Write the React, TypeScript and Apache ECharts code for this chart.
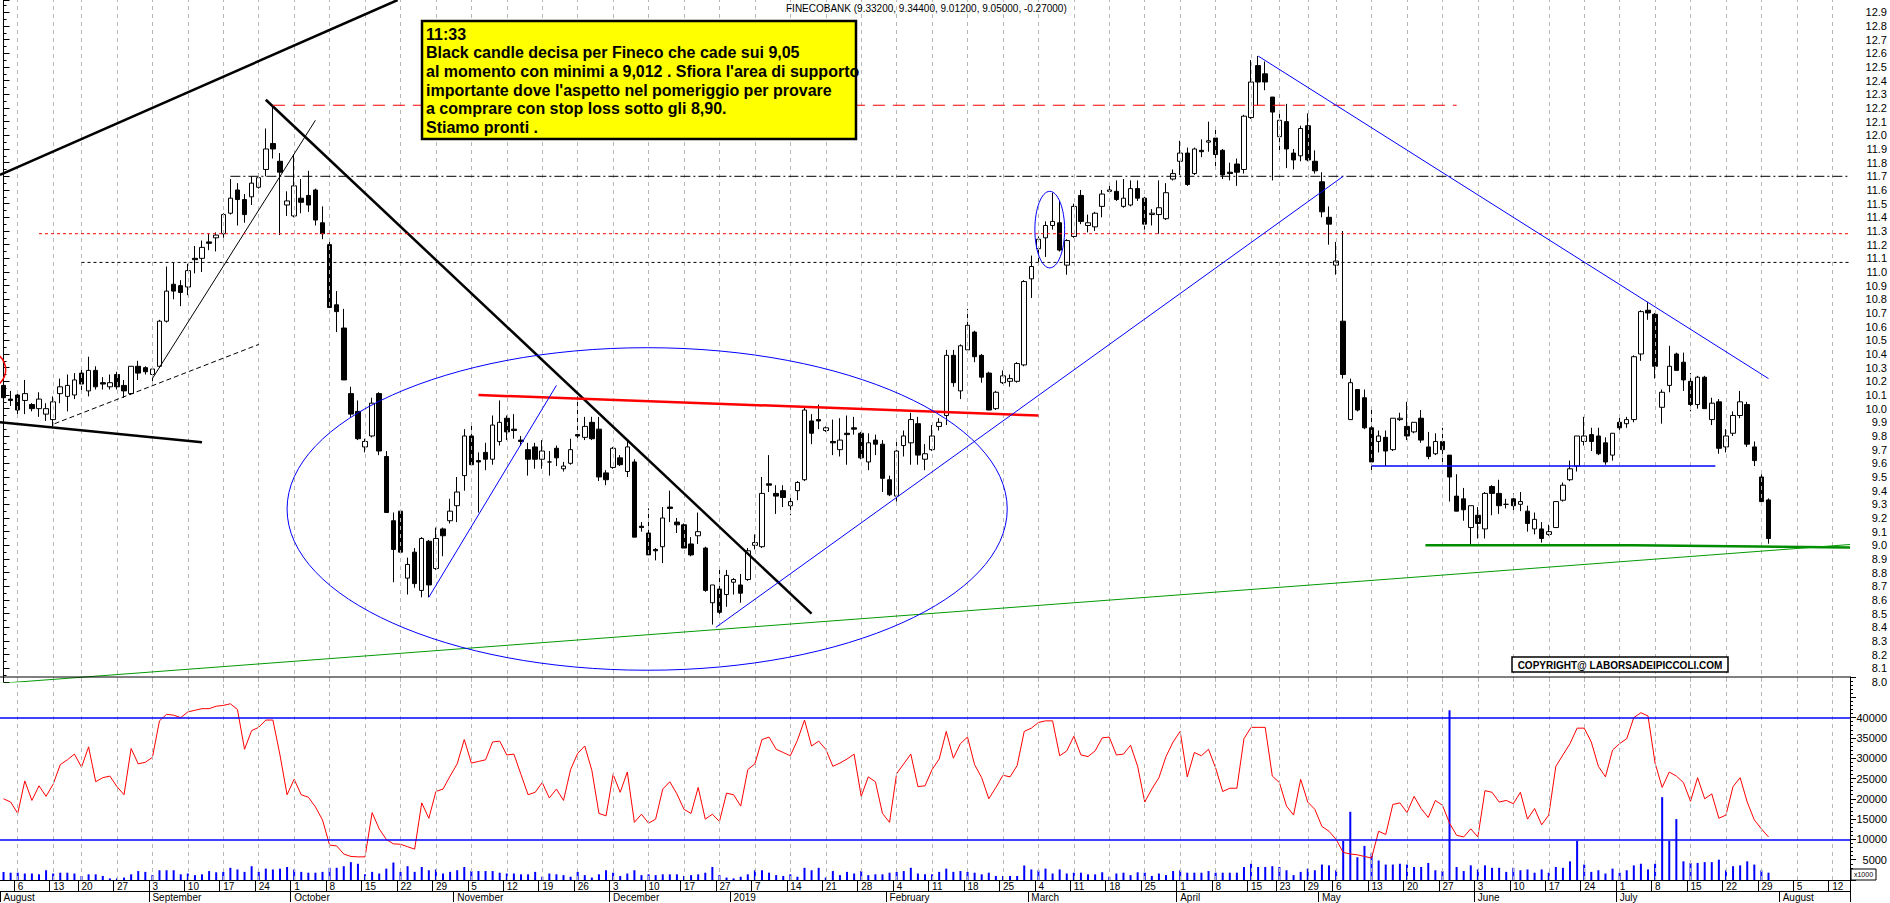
import React, { useEffect, useRef } from 'react';
import * as echarts from 'echarts';

// ---------- calendar ----------
const HOLIDAYS = ['2018-08-15', '2018-12-24', '2018-12-25', '2018-12-26', '2018-12-31', '2019-01-01', '2019-04-19', '2019-04-22', '2019-05-01', '2019-08-15'];
const FIRST_DAY = '2018-08-02';
const SLOT_COUNT = 261;
const MONTH_NAMES = ['January', 'February', 'March', 'April', 'May', 'June', 'July', 'August', 'September', 'October', 'November', 'December'];

function tradingDays(start: string, count: number, holidays: string[]): string[] {
  const out: string[] = [];
  const d = new Date(start + 'T00:00:00Z');
  while (out.length < count) {
    const dow = d.getUTCDay();
    const s = d.toISOString().slice(0, 10);
    if (dow !== 0 && dow !== 6 && holidays.indexOf(s) < 0) out.push(s);
    d.setUTCDate(d.getUTCDate() + 1);
  }
  return out;
}
const DATES = tradingDays(FIRST_DAY, SLOT_COUNT, HOLIDAYS);

// ---------- data: [open, high, low, close] ----------
const CANDLES: number[][] = [
  [10.17, 10.23, 10.02, 10.08], [10.07, 10.13, 10.02, 10.06], [10.10, 10.12, 9.96, 9.99], [10.06, 10.21, 9.96, 10.11], [10.03, 10.04, 9.98, 10.00],
  [10.00, 10.12, 9.94, 10.07], [9.96, 10.04, 9.91, 10.00], [9.92, 10.09, 9.87, 10.05], [10.11, 10.22, 10.04, 10.16], [10.09, 10.25, 9.98, 10.17],
  [10.10, 10.26, 10.07, 10.21], [10.26, 10.31, 10.13, 10.18], [10.13, 10.38, 10.09, 10.28], [10.28, 10.31, 10.14, 10.16], [10.19, 10.23, 10.14, 10.18],
  [10.16, 10.25, 10.14, 10.19], [10.25, 10.27, 10.14, 10.16], [10.17, 10.21, 10.08, 10.13], [10.11, 10.31, 10.10, 10.31], [10.31, 10.35, 10.21, 10.26],
  [10.30, 10.31, 10.25, 10.27], [10.25, 10.31, 10.20, 10.29], [10.31, 10.65, 10.30, 10.64], [10.64, 11.04, 10.63, 10.86], [10.91, 11.07, 10.80, 10.86],
  [10.90, 10.94, 10.75, 10.85], [10.89, 11.06, 10.83, 11.01], [11.10, 11.19, 10.99, 11.09], [11.10, 11.23, 11.00, 11.18], [11.22, 11.28, 11.16, 11.21],
  [11.25, 11.29, 11.15, 11.27], [11.28, 11.43, 11.25, 11.42], [11.43, 11.68, 11.42, 11.54], [11.60, 11.65, 11.34, 11.53], [11.53, 11.57, 11.36, 11.42],
  [11.55, 11.70, 11.49, 11.65], [11.62, 11.72, 11.61, 11.69], [11.75, 12.05, 11.70, 11.90], [11.94, 12.21, 11.83, 11.90], [11.81, 11.87, 11.27, 11.73],
  [11.49, 11.59, 11.41, 11.52], [11.41, 11.86, 11.40, 11.63], [11.54, 11.68, 11.43, 11.51], [11.56, 11.74, 11.44, 11.49], [11.60, 11.61, 11.34, 11.38],
  [11.36, 11.48, 11.24, 11.28], [11.20, 11.22, 10.74, 10.74], [10.76, 10.86, 10.56, 10.71], [10.59, 10.73, 10.21, 10.21], [10.11, 10.16, 9.94, 9.96],
  [9.98, 10.06, 9.77, 9.78], [9.72, 9.78, 9.68, 9.76], [9.80, 10.08, 9.79, 10.04], [10.11, 10.12, 9.66, 9.69], [9.65, 9.69, 9.24, 9.24],
  [9.18, 9.24, 8.73, 8.97], [9.25, 9.26, 8.94, 8.95], [8.76, 8.91, 8.64, 8.86], [8.95, 8.98, 8.69, 8.72], [8.67, 9.06, 8.62, 9.05],
  [9.03, 9.04, 8.62, 8.71], [8.83, 9.13, 8.82, 9.05], [9.12, 9.13, 8.92, 9.07], [9.18, 9.34, 9.16, 9.25], [9.29, 9.50, 9.17, 9.39],
  [9.51, 9.85, 9.40, 9.80], [9.80, 9.90, 9.58, 9.59], [9.62, 9.68, 9.24, 9.61], [9.68, 9.75, 9.55, 9.63], [9.63, 9.95, 9.59, 9.88],
  [9.76, 10.06, 9.73, 9.90], [9.93, 9.95, 9.77, 9.83], [9.85, 9.96, 9.78, 9.84], [9.77, 9.80, 9.73, 9.76], [9.70, 9.75, 9.51, 9.63],
  [9.72, 9.75, 9.56, 9.63], [9.63, 9.77, 9.56, 9.69], [9.61, 9.69, 9.51, 9.61], [9.71, 9.73, 9.58, 9.64], [9.56, 9.61, 9.54, 9.58],
  [9.60, 9.78, 9.59, 9.70], [9.81, 10.09, 9.77, 9.80], [9.79, 9.94, 9.77, 9.87], [9.90, 9.94, 9.77, 9.78], [9.85, 9.94, 9.47, 9.50],
  [9.53, 9.55, 9.44, 9.48], [9.57, 9.72, 9.56, 9.71], [9.64, 9.66, 9.58, 9.59], [9.54, 9.77, 9.50, 9.72], [9.61, 9.63, 9.06, 9.06],
  [9.14, 9.17, 9.10, 9.13], [9.09, 9.27, 8.93, 8.93], [8.97, 8.98, 8.89, 8.96], [8.99, 9.28, 8.87, 9.20], [9.28, 9.40, 9.17, 9.27],
  [9.17, 9.20, 9.09, 9.15], [9.15, 9.16, 8.98, 8.98], [9.01, 9.06, 8.92, 8.93], [9.07, 9.24, 9.01, 9.10], [8.98, 8.99, 8.66, 8.67],
  [8.58, 8.71, 8.42, 8.71], [8.68, 8.82, 8.47, 8.51], [8.64, 8.82, 8.55, 8.78], [8.73, 8.76, 8.64, 8.75], [8.71, 8.79, 8.58, 8.65],
  [8.75, 8.98, 8.74, 8.96], [9.00, 9.08, 8.97, 9.02], [8.99, 9.50, 8.98, 9.38], [9.45, 9.66, 9.39, 9.44], [9.38, 9.44, 9.23, 9.36],
  [9.40, 9.44, 9.28, 9.35], [9.29, 9.35, 9.22, 9.32], [9.40, 9.47, 9.33, 9.46], [9.48, 10.01, 9.47, 9.99], [9.91, 9.96, 9.74, 9.82],
  [9.92, 10.03, 9.85, 9.91], [9.84, 9.87, 9.83, 9.86], [9.76, 9.92, 9.66, 9.75], [9.70, 9.93, 9.65, 9.77], [9.82, 9.95, 9.59, 9.81],
  [9.86, 9.94, 9.81, 9.85], [9.82, 9.83, 9.63, 9.64], [9.61, 9.82, 9.55, 9.75], [9.77, 9.81, 9.66, 9.74], [9.74, 9.77, 9.39, 9.49],
  [9.48, 9.51, 9.36, 9.37], [9.36, 9.77, 9.32, 9.69], [9.73, 9.84, 9.65, 9.80], [9.75, 9.97, 9.59, 9.92], [9.89, 9.94, 9.59, 9.66],
  [9.63, 9.74, 9.55, 9.67], [9.70, 9.88, 9.69, 9.80], [9.87, 9.93, 9.84, 9.90], [9.95, 10.43, 9.88, 10.39], [10.39, 10.43, 10.16, 10.19],
  [10.13, 10.47, 10.07, 10.46], [10.43, 10.73, 10.42, 10.61], [10.56, 10.57, 10.34, 10.38], [10.39, 10.40, 10.19, 10.23], [10.26, 10.27, 9.99, 9.99],
  [10.00, 10.13, 9.99, 10.12], [10.19, 10.28, 10.18, 10.24], [10.20, 10.25, 10.16, 10.22], [10.20, 10.34, 10.19, 10.33], [10.32, 10.94, 10.31, 10.93],
  [10.95, 11.12, 10.81, 11.04], [11.17, 11.26, 11.07, 11.24], [11.25, 11.37, 11.11, 11.34], [11.34, 11.58, 11.31, 11.37], [11.36, 11.52, 11.15, 11.16],
  [11.05, 11.24, 10.98, 11.23], [11.26, 11.50, 11.25, 11.48], [11.56, 11.60, 11.35, 11.37], [11.34, 11.42, 11.29, 11.36], [11.33, 11.44, 11.30, 11.43],
  [11.48, 11.60, 11.40, 11.57], [11.59, 11.65, 11.58, 11.60], [11.59, 11.67, 11.52, 11.53], [11.48, 11.68, 11.47, 11.54], [11.49, 11.67, 11.48, 11.61],
  [11.61, 11.67, 11.52, 11.54], [11.54, 11.55, 11.31, 11.35], [11.42, 11.46, 11.34, 11.43], [11.42, 11.67, 11.28, 11.47], [11.39, 11.65, 11.38, 11.58],
  [11.68, 11.75, 11.67, 11.72], [11.81, 11.96, 11.71, 11.87], [11.87, 11.91, 11.63, 11.64], [11.72, 11.91, 11.71, 11.90], [11.89, 11.97, 11.84, 11.88],
  [11.95, 12.10, 11.88, 11.96], [11.98, 12.05, 11.77, 11.86], [11.89, 11.90, 11.68, 11.71], [11.73, 11.80, 11.67, 11.72], [11.79, 11.83, 11.63, 11.73],
  [11.75, 12.15, 11.72, 12.14], [12.13, 12.55, 12.12, 12.39], [12.51, 12.58, 12.22, 12.39], [12.45, 12.54, 12.33, 12.39], [12.28, 12.28, 11.67, 12.17],
  [11.99, 12.17, 11.89, 12.11], [12.10, 12.23, 11.76, 11.90], [11.87, 11.90, 11.75, 11.82], [11.85, 12.07, 11.81, 12.05], [12.07, 12.16, 11.81, 11.82],
  [11.81, 11.89, 11.72, 11.74], [11.66, 11.73, 11.40, 11.44], [11.40, 11.48, 11.20, 11.35], [11.05, 11.22, 10.98, 11.08], [10.64, 11.30, 10.22, 10.25],
  [9.92, 10.22, 9.92, 10.19], [10.14, 10.14, 9.98, 9.99], [10.08, 10.14, 9.85, 9.86], [9.86, 9.99, 9.55, 9.61], [9.76, 9.84, 9.68, 9.80],
  [9.79, 9.84, 9.58, 9.69], [9.70, 9.93, 9.69, 9.93], [9.92, 9.97, 9.91, 9.93], [9.87, 10.05, 9.77, 9.80], [9.83, 9.90, 9.82, 9.90],
  [9.93, 9.99, 9.75, 9.77], [9.72, 9.83, 9.63, 9.65], [9.67, 9.82, 9.66, 9.76], [9.76, 9.86, 9.58, 9.70], [9.66, 9.66, 9.32, 9.50],
  [9.36, 9.52, 9.25, 9.25], [9.34, 9.42, 9.18, 9.26], [9.13, 9.29, 9.00, 9.29], [9.22, 9.28, 9.05, 9.16], [9.12, 9.39, 9.05, 9.38],
  [9.43, 9.44, 9.22, 9.38], [9.38, 9.48, 9.23, 9.29], [9.30, 9.34, 9.27, 9.30], [9.34, 9.38, 9.23, 9.29], [9.30, 9.39, 9.25, 9.32],
  [9.25, 9.29, 9.10, 9.16], [9.12, 9.24, 9.08, 9.19], [9.12, 9.17, 9.02, 9.05], [9.08, 9.15, 9.07, 9.10], [9.13, 9.32, 9.13, 9.32],
  [9.33, 9.46, 9.32, 9.44], [9.48, 9.62, 9.47, 9.56], [9.58, 9.80, 9.54, 9.80], [9.76, 9.94, 9.73, 9.80], [9.81, 9.86, 9.69, 9.76],
  [9.80, 9.86, 9.66, 9.67], [9.75, 9.79, 9.59, 9.61], [9.66, 9.82, 9.62, 9.82], [9.90, 9.95, 9.83, 9.86], [9.89, 9.94, 9.86, 9.92],
  [9.92, 10.39, 9.90, 10.38], [10.40, 10.72, 10.35, 10.71], [10.72, 10.78, 10.65, 10.70], [10.69, 10.70, 10.22, 10.31], [10.01, 10.14, 9.89, 10.12],
  [10.17, 10.46, 10.12, 10.31], [10.40, 10.41, 10.28, 10.28], [10.34, 10.41, 10.13, 10.21], [10.20, 10.26, 9.98, 10.03], [10.03, 10.24, 10.00, 10.23],
  [10.23, 10.24, 10.00, 10.00], [9.92, 10.08, 9.88, 10.04], [10.05, 10.07, 9.67, 9.71], [9.72, 9.85, 9.68, 9.80], [9.82, 9.98, 9.80, 9.95],
  [9.95, 10.13, 9.93, 10.05], [10.03, 10.05, 9.72, 9.74], [9.72, 9.76, 9.58, 9.62], [9.50, 9.52, 9.30, 9.32], [9.332, 9.344, 9.012, 9.05],
];

const OSCILLATOR: number[] = [
  20000, 19200, 16400, 24400, 19600, 23200, 20600, 23600, 28400, 29600,
  31000, 27800, 32800, 24200, 25200, 25600, 23000, 21000, 32400, 28600,
  29000, 30200, 39200, 40800, 40600, 40000, 41400, 41800, 42200, 42200,
  42800, 43000, 43400, 42000, 32200, 36800, 37600, 39400, 39400, 30800,
  21000, 24800, 21000, 20400, 18000, 14800, 8600, 8400, 6400, 5800,
  5700, 5700, 16600, 12600, 10000, 8900, 8800, 8200, 7600, 19000,
  15200, 21800, 22400, 25600, 28600, 34600, 28800, 29200, 29600, 34000,
  34200, 30800, 31000, 26000, 21000, 21600, 24000, 20200, 22400, 19600,
  27200, 31200, 33000, 27000, 16400, 15800, 26000, 21600, 26600, 14200,
  16200, 14000, 15000, 22400, 24200, 21200, 17400, 16400, 22800, 15000,
  16200, 14400, 21400, 21000, 18200, 27200, 28600, 34600, 35200, 32200,
  31400, 30600, 34400, 39400, 33000, 34200, 32200, 28000, 28800, 29800,
  31000, 20600, 25400, 24200, 16400, 14200, 26200, 28600, 31000, 23000,
  23200, 27200, 29800, 36600, 30000, 33600, 35200, 28400, 25200, 20000,
  22800, 25800, 25400, 28200, 36600, 37400, 38800, 39200, 39200, 30600,
  31800, 35400, 30800, 30400, 31800, 35000, 35200, 30800, 31000, 33200,
  28000, 19200, 22400, 25200, 30400, 34000, 36600, 25400, 31400, 30600,
  32200, 27600, 21800, 22600, 22600, 34800, 37600, 37600, 37600, 25600,
  24000, 18200, 16000, 24800, 19200, 17400, 13200, 12000, 10000, 6800,
  6400, 6200, 5800, 5400, 12000, 11200, 18600, 19000, 16600, 20600,
  17600, 15400, 19600, 18400, 14000, 11000, 10600, 12600, 10600, 22000,
  21600, 19200, 19600, 18800, 21600, 15000, 17600, 13600, 16000, 28000,
  30800, 33600, 37400, 37400, 34000, 28000, 25400, 32000, 33600, 34800,
  40000, 41200, 40400, 28800, 22800, 26600, 25600, 24000, 19400, 25200,
  20000, 21200, 15200, 16000, 23000, 25200, 19200, 14800, 12600, 10600,
];

const VOLUME: number[] = [
  2000, 1800, 1800, 1600, 1600, 1400, 2400, 1600, 1800, 1800,
  1600, 1000, 1400, 1400, 1000, 400, 400, 600, 1400, 2200,
  2000, 1200, 2400, 2400, 2400, 1400, 1600, 1200, 1400, 2200,
  1900, 2000, 3000, 2600, 2000, 3400, 2000, 2800, 2600, 2800,
  3200, 2600, 2000, 1800, 1800, 2000, 3000, 3000, 3400, 4400,
  4000, 1400, 2000, 1600, 2800, 4300, 2000, 3400, 2000, 3200,
  2400, 2600, 1600, 2000, 2400, 3200, 2200, 2200, 2200, 2200,
  1800, 1600, 1600, 1400, 1400, 2000, 800, 1600, 1400, 1200,
  800, 2000, 1200, 600, 1400, 2400, 1800, 1000, 1600, 2400,
  1200, 1400, 1200, 1400, 1400, 1400, 1000, 1200, 1400, 1800,
  3200, 1200, 600, 400, 800, 1400, 2400, 2400, 1800, 1200,
  1000, 1400, 800, 3000, 2400, 3000, 600, 2200, 1200, 2000,
  1600, 2200, 1200, 1400, 1400, 1800, 2000, 2200, 3000, 1600,
  1400, 1400, 2000, 2800, 2000, 2200, 2000, 1800, 1400, 1800,
  1000, 1000, 1000, 1000, 3600, 2600, 2400, 2800, 1600, 2600,
  1600, 1800, 1800, 1400, 1400, 1900, 800, 1600, 1800, 1200,
  1900, 1800, 1000, 1600, 1200, 2200, 2400, 1800, 1800, 1800,
  2200, 1800, 1800, 1800, 1800, 3200, 4000, 3200, 3200, 3400,
  3200, 2400, 1200, 2000, 2800, 2400, 3800, 3600, 2400, 9600,
  16800, 5600, 8400, 6600, 4800, 3800, 3800, 4000, 3800, 3200,
  3200, 4200, 2400, 2200, 41800, 3200, 2200, 3600, 2600, 3600,
  3000, 3000, 2000, 3000, 2400, 2600, 1800, 2600, 1800, 3200,
  3000, 4600, 9600, 3800, 2000, 2400, 1600, 2800, 1800, 2400,
  3600, 4000, 2600, 4000, 20400, 9600, 15000, 4600, 4200, 4200,
  4400, 4400, 5000, 2400, 3400, 3600, 4600, 3800, 2400, 1800,
];

const OSC_LEVELS = [40000, 10000];

// ---------- drawn annotations, in data coordinates (slot index, price) ----------
type Trend = { pts: number[][]; color: string; width: number; dash: any };
const RIGHT_EDGE = SLOT_COUNT - 0.5;
const TREND_LINES: Trend[] = [
  { pts: [[-0.5, 11.71], [55.6, 12.99]], color: '#000000', width: 2.5, dash: 'solid' },
  { pts: [[-0.5, 9.9], [28, 9.755]], color: '#000000', width: 2.5, dash: 'solid' },
  { pts: [[7.2, 9.89], [36, 10.47]], color: '#000000', width: 1, dash: [5, 3] },
  { pts: [[21, 10.22], [44, 12.11]], color: '#000000', width: 1, dash: 'solid' },
  { pts: [[37, 12.26], [114, 8.5]], color: '#000000', width: 2.5, dash: 'solid' },
  { pts: [[38, 12.22], [205, 12.22]], color: '#ff0000', width: 1.2, dash: [12, 8] },
  { pts: [[32, 11.7], [RIGHT_EDGE, 11.7]], color: '#000000', width: 1, dash: [10, 3, 2, 3] },
  { pts: [[5, 11.28], [RIGHT_EDGE, 11.28]], color: '#ff0000', width: 1, dash: [3, 3] },
  { pts: [[11, 11.07], [RIGHT_EDGE, 11.07]], color: '#000000', width: 1, dash: [3, 3] },
  { pts: [[67, 10.1], [146, 9.95]], color: '#ff0000', width: 2.5, dash: 'solid' },
  { pts: [[60, 8.62], [78, 10.17]], color: '#0000ff', width: 1, dash: 'solid' },
  { pts: [[100.5, 8.4], [189, 11.7]], color: '#0000ff', width: 1, dash: 'solid' },
  { pts: [[177, 12.58], [249, 10.22]], color: '#0000ff', width: 1, dash: 'solid' },
  { pts: [[193, 9.58], [241.5, 9.58]], color: '#0000ff', width: 1.5, dash: 'solid' },
  { pts: [[200.6, 9.0], [230, 9.0], [RIGHT_EDGE, 8.985]], color: '#008c00', width: 2.5, dash: 'solid' },
  { pts: [[-0.5, 7.99], [RIGHT_EDGE, 9.006]], color: '#009a00', width: 1, dash: 'solid' },
];
const ELLIPSES = [
  { cx: 90.8, cy: 9.266, rx: 50.8, ry: 1.18, color: '#0000ff', width: 1 },
  { cx: 147.6, cy: 11.31, rx: 2.1, ry: 0.28, color: '#0000ff', width: 1 },
  { cx: -2.5, cy: 10.285, rx: 2.8, ry: 0.14, color: '#ff0000', width: 1.5 },
];

const TICKER = 'FINECOBANK';
const NOTE_LINES = [
  '11:33',
  'Black candle decisa per Fineco che cade sui 9,05',
  "al momento con minimi a 9,012 . Sfiora l'area di supporto",
  "importante dove l'aspetto nel pomeriggio per provare",
  'a comprare con stop loss sotto gli 8,90.',
  'Stiamo pronti .',
];
const COPYRIGHT = 'COPYRIGHT@ LABORSADEIPICCOLI.COM';

// ---------- helpers ----------
const dow = (s: string) => new Date(s + 'T00:00:00Z').getUTCDay();
const isMonthStart = (i: number) => i === 0 || DATES[i].slice(5, 7) !== DATES[i - 1].slice(5, 7);
const isWeekStart = (i: number) => {
  if (i <= 0 || i >= DATES.length) return false;
  const gap = (Date.parse(DATES[i]) - Date.parse(DATES[i - 1])) / 86400000;
  const newWeek = dow(DATES[i]) <= dow(DATES[i - 1]) || gap >= 7;
  const yearStart = isMonthStart(i) && DATES[i].slice(5, 7) === '01';
  return newWeek && !yearStart;
};
const monthLabel = (i: number) => {
  const m = parseInt(DATES[i].slice(5, 7), 10) - 1;
  return m === 0 ? DATES[i].slice(0, 4) : MONTH_NAMES[m];
};
const WEEK_IDX = DATES.map((_, i) => i).filter(isWeekStart);

const FONT = '"Liberation Sans", Arial, sans-serif';

function buildTitle() {
  const last = CANDLES[CANDLES.length - 1];
  const prev = CANDLES[CANDLES.length - 2];
  const f = (v: number) => v.toFixed(5);
  return `${TICKER} (${f(last[0])}, ${f(last[1])}, ${f(last[2])}, ${f(last[3])}, ${f(last[3] - prev[3])})`;
}

function buildOption(): any {
  const gridLineMark = {
    silent: true,
    symbol: ['none', 'none'],
    label: { show: false },
    lineStyle: { color: '#b8b8b8', type: [4, 4], width: 1 },
    data: WEEK_IDX.map((i) => ({ xAxis: DATES[i] })),
  };
  return {
    animation: false,
    backgroundColor: '#ffffff',
    textStyle: { fontFamily: FONT },
    grid: [
      { left: 0, right: 39.5, top: 0, height: 682 },
      { left: 0, right: 39.5, top: 677, height: 203 },
    ],
    xAxis: [
      { type: 'category', gridIndex: 0, data: DATES, boundaryGap: true, axisLine: { show: false }, axisTick: { show: false }, axisLabel: { show: false }, splitLine: { show: false } },
      { type: 'value', gridIndex: 0, min: -0.5, max: SLOT_COUNT - 0.5, show: false, splitLine: { show: false } },
      {
        type: 'category', gridIndex: 1, data: DATES, boundaryGap: true, position: 'bottom',
        axisLine: { show: true, lineStyle: { color: '#000', width: 1 } },
        axisTick: { show: true, interval: (i: number) => isWeekStart(i), length: 11, lineStyle: { color: '#000' } },
        axisLabel: {
          show: true, interval: (i: number) => isWeekStart(i), align: 'left', margin: 1, fontSize: 10, color: '#000',
          formatter: (v: string, i: number) => (isWeekStart(i) ? String(parseInt(v.slice(8, 10), 10)) : ''),
        },
        splitLine: { show: false },
      },
      {
        type: 'category', gridIndex: 1, data: DATES, boundaryGap: true, position: 'bottom', offset: 11,
        axisLine: { show: true, lineStyle: { color: '#000', width: 1 } },
        axisTick: { show: true, interval: (i: number) => isMonthStart(i), length: 11, lineStyle: { color: '#000' } },
        axisLabel: {
          show: true, interval: (i: number) => isMonthStart(i), align: 'left', margin: 1, fontSize: 10, color: '#000',
          formatter: (_v: string, i: number) => (isMonthStart(i) ? monthLabel(i) : ''),
        },
        splitLine: { show: false },
      },
    ],
    yAxis: [
      {
        type: 'value', gridIndex: 0, position: 'right', min: 8.0, max: 12.99, interval: 0.1,
        axisLine: { show: true, lineStyle: { color: '#000', width: 1 } },
        axisTick: { show: true, length: 6, lineStyle: { color: '#000' } },
        minorTick: { show: true, splitNumber: 2, length: 3, lineStyle: { color: '#000' } },
        axisLabel: { show: true, showMaxLabel: false, align: 'right', margin: 37, fontSize: 11, color: '#000', formatter: (v: number) => v.toFixed(1) },
        splitLine: { show: false },
      },
      {
        type: 'value', gridIndex: 1, position: 'right', min: 0, max: 50000, interval: 5000,
        axisLine: { show: true, lineStyle: { color: '#000', width: 1 } },
        axisTick: { show: true, length: 6, lineStyle: { color: '#000' } },
        minorTick: { show: true, splitNumber: 5, length: 3, lineStyle: { color: '#000' } },
        axisLabel: { show: true, align: 'right', margin: 37, fontSize: 11, color: '#000', formatter: (v: number) => (v > 0 && v <= 40000 ? String(v) : '') },
        splitLine: { show: false },
      },
    ],
    series: [
      { type: 'line', xAxisIndex: 0, yAxisIndex: 0, data: [], z: 1, silent: true, markLine: gridLineMark },
      {
        type: 'candlestick', xAxisIndex: 0, yAxisIndex: 0, z: 3, barWidth: 5,
        data: CANDLES.map((c) => [c[0], c[3], c[2], c[1]]),
        itemStyle: { color: '#ffffff', color0: '#000000', borderColor: '#000000', borderColor0: '#000000', borderWidth: 1 },
      },
      ...TREND_LINES.map((t) => ({
        type: 'line', xAxisIndex: 1, yAxisIndex: 0, z: 5, silent: true, symbol: 'none', clip: true,
        data: t.pts, lineStyle: { color: t.color, width: t.width, type: t.dash },
      })),
      { type: 'line', xAxisIndex: 2, yAxisIndex: 1, data: [], z: 1, silent: true, markLine: gridLineMark },
      { type: 'bar', xAxisIndex: 2, yAxisIndex: 1, data: VOLUME, barWidth: 2, itemStyle: { color: '#0000ff' }, z: 2 },
      {
        type: 'line', xAxisIndex: 2, yAxisIndex: 1, data: OSCILLATOR, symbol: 'none', z: 4,
        lineStyle: { color: '#ff0000', width: 1 },
        markLine: {
          silent: true, symbol: ['none', 'none'], label: { show: false },
          lineStyle: { color: '#0000ff', width: 1.5, type: 'solid' },
          data: OSC_LEVELS.map((v) => ({ yAxis: v })),
        },
      },
    ],
  };
}

function buildGraphics(chart: any) {
  const px = (i: number) => chart.convertToPixel({ xAxisIndex: 1 }, i) as number;
  const py = (p: number) => chart.convertToPixel({ yAxisIndex: 0 }, p) as number;
  const ellipses = ELLIPSES.map((e) => ({
    type: 'ellipse', silent: true, z: 20,
    shape: { cx: px(e.cx), cy: py(e.cy), rx: px(e.cx + e.rx) - px(e.cx), ry: py(e.cy - e.ry) - py(e.cy) },
    style: { fill: 'none', stroke: e.color, lineWidth: e.width },
  }));
  return [
    ...ellipses,
    { type: 'line', silent: true, z: 20, shape: { x1: 0, y1: 677, x2: 1850.5, y2: 677 }, style: { stroke: '#000', lineWidth: 1 } },
    { type: 'text', silent: true, z: 30, x: 786, y: 3, style: { text: buildTitle(), fill: '#000', fontSize: 10, fontFamily: FONT } },
    {
      type: 'group', silent: true, z: 40,
      children: [
        { type: 'rect', z: 40, shape: { x: 422, y: 21, width: 434, height: 118 }, style: { fill: '#ffff00', stroke: '#000', lineWidth: 2.5 } },
        { type: 'text', z: 41, x: 426, y: 25, style: { text: NOTE_LINES.join('\n'), fill: '#000', fontSize: 16, fontWeight: 'bold', fontFamily: FONT, lineHeight: 18.6 } },
      ],
    },
    {
      type: 'group', silent: true, z: 40,
      children: [
        { type: 'rect', z: 40, shape: { x: 1512, y: 657, width: 216, height: 15 }, style: { fill: '#ffffff', stroke: '#000', lineWidth: 1.5 } },
        { type: 'text', z: 41, x: 1620, y: 665, style: { text: COPYRIGHT, fill: '#000', fontSize: 10, fontWeight: 'bold', fontFamily: FONT, align: 'center', verticalAlign: 'middle' } },
      ],
    },
    {
      type: 'group', silent: true, z: 40,
      children: [
        { type: 'rect', z: 40, shape: { x: 1851, y: 869, width: 25, height: 11 }, style: { fill: '#ffffff', stroke: '#000', lineWidth: 1 } },
        { type: 'text', z: 41, x: 1863.5, y: 874.5, style: { text: 'x1000', fill: '#000', fontSize: 7, fontFamily: FONT, align: 'center', verticalAlign: 'middle' } },
      ],
    },
  ];
}

export default function App() {
  const ref = useRef<HTMLDivElement>(null);
  useEffect(() => {
    document.body.style.margin = '0';
    if (!ref.current) return;
    const chart = echarts.init(ref.current, null, { renderer: 'svg' });
    chart.setOption(buildOption());
    chart.setOption({ graphic: buildGraphics(chart) });
    return () => chart.dispose();
  }, []);
  return <div ref={ref} style={{ width: 1890, height: 903, background: '#fff' }} />;
}
